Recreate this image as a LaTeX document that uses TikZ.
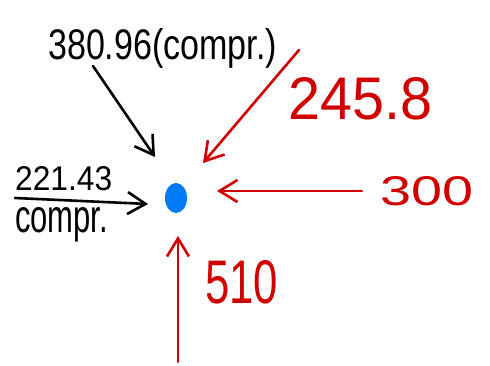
\documentclass[tikz,border=0pt]{standalone}
\usepackage{fontspec}
\setmainfont{Liberation Sans}
\usetikzlibrary{arrows.meta,shapes.geometric}
\definecolor{hwred}{RGB}{208,0,0}
\definecolor{hwblue}{RGB}{0,122,245}
\newcommand{\hwtext}[3]{\resizebox{#1}{#2}{#3}}
\begin{document}
\begin{tikzpicture}[x=1pt,y=-1pt,
  lbl/.style={inner sep=0pt,anchor=base west},
  force/.style={line width=2.6pt,line cap=round,
    -{Straight Barb[length=18pt,width=22pt,line width=2.6pt]}},
  redforce/.style={force,draw=hwred},
  blackforce/.style={force,draw=black}]
\useasboundingbox (0,0) rectangle (490,366);
\fill[white] (0,0) rectangle (490,366);
% point
\node[ellipse,fill=hwblue,minimum width=22pt,minimum height=30pt,inner sep=0pt] (p) at (176,198) {};
% arrow end points
\coordinate (s1) at (93,66);   \coordinate (t1) at (155,157);
\coordinate (s2) at (299,50);  \coordinate (t2) at (203,163);
\coordinate (s3) at (362,191); \coordinate (t3) at (217,191);
\coordinate (s4) at (178,362); \coordinate (t4) at (178,236);
\coordinate (s5) at (15,198);  \coordinate (t5) at (148,204);
\draw[blackforce] (s1) -- (t1);
\draw[redforce] (s2) -- (t2);
\draw[redforce] (s3) -- (t3);
\draw[redforce] (s4) -- (t4);
\draw[blackforce] (s5) -- (t5);
% labels
\node[lbl] (l1) at (48,60) {\hwtext{229pt}{31pt}{380.96(compr.)}};
\node[lbl,text=hwred] (l2) at (288,120) {\hwtext{144pt}{42pt}{245.8}};
\node[lbl,text=hwred] (l3) at (380,206) {\hwtext{93pt}{29pt}{300}};
\node[lbl,text=hwred] (l4) at (205,303) {\hwtext{73pt}{43pt}{510}};
\node[lbl] (l5) at (15,191) {\hwtext{97pt}{24pt}{221.43}};
\node[lbl] (l6) at (15,233) {\hwtext{93pt}{25pt}{compr.}};
\end{tikzpicture}
\end{document}
